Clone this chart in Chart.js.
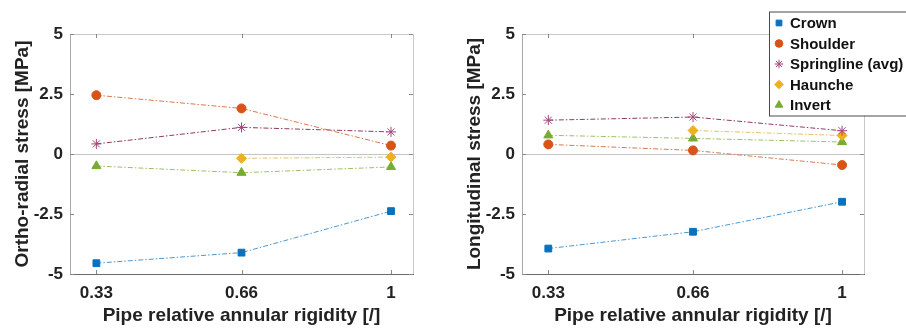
<!DOCTYPE html>
<html>
<head>
<meta charset="utf-8">
<script src="https://cdn.jsdelivr.net/npm/chart.js@4.4.1/dist/chart.umd.min.js"></script>
<style>
  html, body { margin: 0; padding: 0; background: #fff; overflow: hidden; }
  #wrap { position: relative; width: 906px; height: 329px; overflow: hidden; }
  .panel { position: absolute; top: 0; height: 329px; }
  #left { left: 0; width: 453px; }
  #right { left: 452px; width: 480px; }
</style>
</head>
<body>
<div id="wrap">
  <div class="panel" id="left"><canvas id="orthoChart"></canvas></div>
  <div class="panel" id="right"><canvas id="longChart"></canvas></div>
</div>
<script>
// ==================== DATA ====================
const rigidity = [0.33, 0.66, 1];
const xTicks = [0.33, 0.66, 1];
const yTicks = [-5, -2.5, 0, 2.5, 5];
const seriesNames = ['Crown', 'Shoulder', 'Springline (avg)', 'Haunche', 'Invert'];

// Ortho-radial stress [MPa]
const orthoCrown = [-4.55, -4.11, -2.38];
const orthoShoulder = [2.45, 1.90, 0.35];
const orthoSpringline = [0.42, 1.11, 0.92];
const orthoHaunche = [null, -0.18, -0.13];
const orthoInvert = [-0.50, -0.78, -0.54];

// Longitudinal stress [MPa]
const longCrown = [-3.94, -3.24, -1.99];
const longShoulder = [0.40, 0.15, -0.46];
const longSpringline = [1.41, 1.54, 0.97];
const longHaunche = [null, 0.98, 0.77];
const longInvert = [0.78, 0.65, 0.50];

// ==================== STYLE ====================
const styles = [
    { color: '#0a72bd', line: '#4a98cf', pointStyle: 'rect', radius: 4.8 },
    { color: '#d95319', line: '#d9784e', pointStyle: 'circle', radius: 4.5 },
    { color: '#a3457b', line: '#8e3a62', pointStyle: 'star', radius: 5 },
    { color: '#edb120', line: '#e8c060', pointStyle: 'rectRot', radius: 5 },
    { color: '#77ac30', line: '#9cc064', pointStyle: 'triangle', radius: 5.2 }
];

const FONT = "'Liberation Sans', Arial, sans-serif";

function buildDatasets(arrays) {
    return arrays.map((vals, i) => ({
        label: seriesNames[i],
        data: rigidity.map((x, j) => ({ x: x, y: vals[j] })),
        borderColor: styles[i].line,
        backgroundColor: styles[i].color,
        pointBackgroundColor: styles[i].color,
        pointBorderColor: styles[i].color,
        pointStyle: styles[i].pointStyle,
        pointRadius: styles[i].radius,
        pointBorderWidth: 1,
        borderWidth: 1,
        borderDash: [5, 2, 1.5, 2],
        spanGaps: false,
        tension: 0
    }));
}

// MATLAB style box with inward ticks
const boxPlugin = {
    id: 'matlabBox',
    afterDraw(chart) {
        const { ctx, chartArea: a, scales: { x, y } } = chart;
        ctx.save();
        ctx.lineWidth = 1;
        ctx.strokeStyle = '#c8c8c8';
        ctx.beginPath();
        ctx.moveTo(a.left, a.top + 0.5);
        ctx.lineTo(a.right + 0.5, a.top + 0.5);
        ctx.lineTo(a.right + 0.5, a.bottom);
        ctx.stroke();
        ctx.strokeStyle = '#a8a8a8';
        ctx.beginPath();
        ctx.moveTo(a.left + 0.5, a.top);
        ctx.lineTo(a.left + 0.5, a.bottom);
        ctx.stroke();
        ctx.strokeStyle = '#6a6a6a';
        ctx.beginPath();
        ctx.moveTo(a.left, a.bottom + 0.5);
        ctx.lineTo(a.right + 1, a.bottom + 0.5);
        ctx.stroke();
        // inward ticks
        ctx.strokeStyle = '#888';
        ctx.beginPath();
        xTicks.forEach(v => {
            const px = Math.round(x.getPixelForValue(v)) + 0.5;
            ctx.moveTo(px, a.bottom); ctx.lineTo(px, a.bottom - 4);
            ctx.moveTo(px, a.top); ctx.lineTo(px, a.top + 4);
        });
        yTicks.forEach(v => {
            const py = Math.round(y.getPixelForValue(v)) + 0.5;
            ctx.moveTo(a.left, py); ctx.lineTo(a.left + 4, py);
            ctx.moveTo(a.right, py); ctx.lineTo(a.right - 4, py);
        });
        ctx.stroke();
        ctx.restore();
    }
};

// Legend box (top right, clipped at the page edge like the figure)
const legendPlugin = {
    id: 'boxLegend',
    afterDraw(chart, args, opts) {
        if (!opts.show) return;
        const ctx = chart.ctx;
        const left = 317, top = 11.5, w = 160, h = 104;
        ctx.save();
        ctx.fillStyle = '#fff';
        ctx.fillRect(left, top, w, h);
        ctx.strokeStyle = '#4a4a4a';
        ctx.lineWidth = 1;
        ctx.strokeRect(left + 0.5, top + 0.5, w, h);
        ctx.font = 'bold 15px ' + FONT;
        ctx.textBaseline = 'middle';
        seriesNames.forEach((name, i) => {
            const cy = 23 + i * 20.5;
            const s = styles[i];
            ctx.fillStyle = s.color;
            ctx.strokeStyle = s.color;
            ctx.lineWidth = 1;
            Chart.helpers.drawPoint(ctx, { pointStyle: s.pointStyle, rotation: 0, radius: s.radius * 0.85, borderWidth: 1 }, 327, cy);
            ctx.fillStyle = '#111';
            ctx.fillText(name, 338, cy + 1);
        });
        ctx.restore();
    }
};

function createStressChart(canvasId, arrays, yTitle, showLegend, padRight) {
    const ctx = document.getElementById(canvasId)?.getContext('2d');
    if (!ctx) return null;

    return new Chart(ctx, {
        type: 'line',
        data: { datasets: buildDatasets(arrays) },
        options: {
            responsive: true,
            maintainAspectRatio: false,
            animation: false,
            layout: { padding: { top: 34, right: padRight, bottom: 0, left: 0 } },
            plugins: {
                legend: { display: false },
                tooltip: { enabled: false },
                boxLegend: { show: showLegend }
            },
            scales: {
                x: {
                    type: 'linear',
                    min: 0.27,
                    max: 1.05,
                    afterBuildTicks: s => { s.ticks = xTicks.map(v => ({ value: v })); },
                    afterFit: s => { s.height = 55; },
                    grid: { display: false, drawTicks: false },
                    border: { display: false },
                    ticks: {
                        padding: 9,
                        color: '#222',
                        font: { family: FONT, size: 17, weight: 'bold' },
                        callback: v => String(v)
                    },
                    title: {
                        display: true,
                        text: 'Pipe relative annular rigidity [/]',
                        color: '#222',
                        font: { family: FONT, size: 19, weight: 'bold' },
                        padding: { top: 0, bottom: 2 }
                    }
                },
                y: {
                    min: -5,
                    max: 5,
                    afterBuildTicks: s => { s.ticks = yTicks.map(v => ({ value: v })); },
                    afterFit: s => { s.width = 70; },
                    grid: {
                        drawTicks: false,
                        color: c => (c.tick && c.tick.value === 0 ? '#c4c4c4' : 'rgba(0,0,0,0)')
                    },
                    border: { display: false },
                    ticks: {
                        padding: 7,
                        color: '#222',
                        font: { family: FONT, size: 17, weight: 'bold' },
                        callback: v => String(v)
                    },
                    title: {
                        display: true,
                        text: yTitle,
                        color: '#222',
                        font: { family: FONT, size: 19, weight: 'bold' },
                        padding: { top: 11, bottom: 0 }
                    }
                }
            }
        },
        plugins: [boxPlugin, legendPlugin]
    });
}

createStressChart('orthoChart',
    [orthoCrown, orthoShoulder, orthoSpringline, orthoHaunche, orthoInvert],
    'Ortho-radial stress [MPa]', false, 40);
createStressChart('longChart',
    [longCrown, longShoulder, longSpringline, longHaunche, longInvert],
    'Longitudinal stress [MPa]', true, 68);
</script>
</body>
</html>
